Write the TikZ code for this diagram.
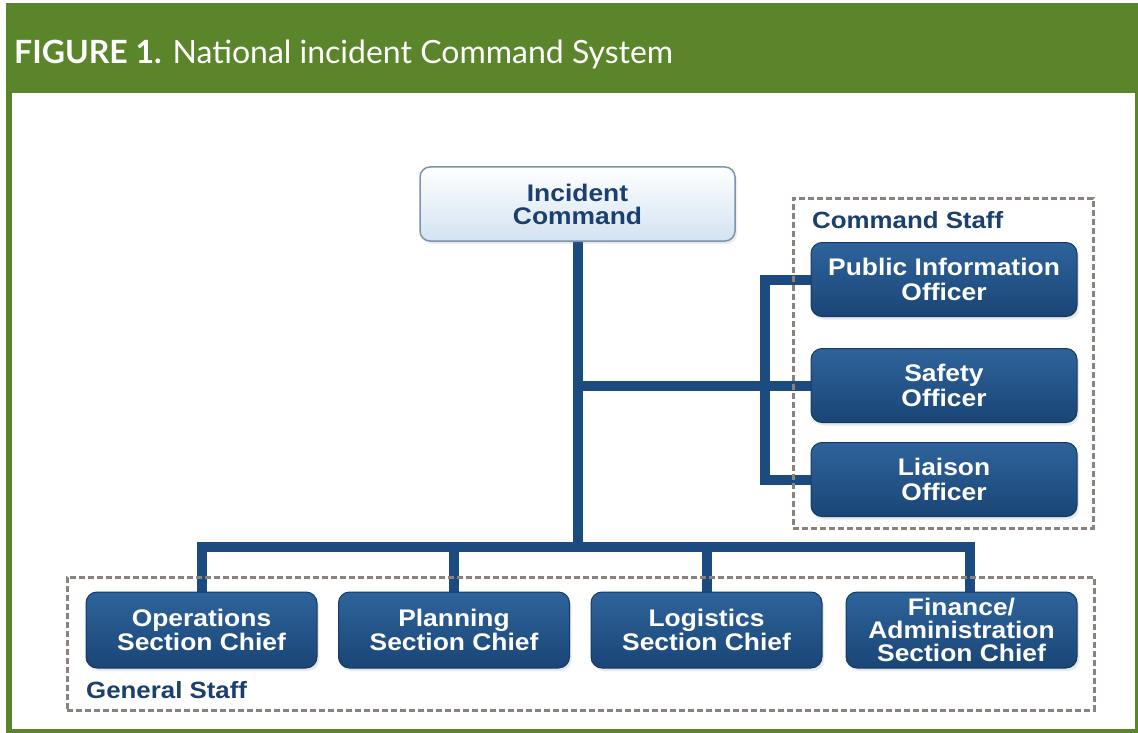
\documentclass[tikz,border=0pt]{standalone}
\usepackage{fontspec}
\setmainfont{Liberation Sans}
\newfontfamily\dfont[FakeStretch=1.1]{Liberation Sans}
\newfontfamily\hfont{Lato}
\usetikzlibrary{shadows}
\definecolor{hgreen}{HTML}{5B852A}
\definecolor{navy}{HTML}{1B4B7F}
\definecolor{boxtop}{HTML}{2E649B}
\definecolor{boxbot}{HTML}{1A4576}
\definecolor{boxedge}{HTML}{133A66}
\definecolor{icedge}{HTML}{7D93AB}
\definecolor{icfill}{HTML}{D3E3F2}
\definecolor{ictext}{HTML}{1B3F6E}
\definecolor{dashgray}{HTML}{8C827D}
\pgfdeclarelayer{bottom}
\pgfdeclarelayer{background}
\pgfsetlayers{bottom,background,main}
\tikzset{
  officer/.style={rectangle, rounded corners=11pt, draw=boxedge, line width=1pt,
    top color=boxtop, bottom color=boxbot, text=white,
    font=\dfont\bfseries\fontsize{24}{24.5}\selectfont, align=center,
    inner sep=0pt, minimum width=266pt, minimum height=74pt,
    drop shadow={shadow xshift=2pt, shadow yshift=-3pt, opacity=0.18, fill=gray}},
  chief/.style={officer, minimum width=231pt, minimum height=76pt},
  icbox/.style={rectangle, rounded corners=10pt, draw=icedge, line width=1.5pt,
    top color=white, bottom color=icfill, text=ictext,
    font=\dfont\bfseries\fontsize{24}{23}\selectfont, align=center,
    inner sep=0pt, minimum width=315pt, minimum height=74pt,
    drop shadow={shadow xshift=2pt, shadow yshift=-3pt, opacity=0.15, fill=gray}},
  staffbox/.style={rectangle, draw=dashgray, line width=3pt, dash pattern=on 6pt off 3pt, inner sep=0pt},
  stafflabel/.style={text=ictext, font=\dfont\bfseries\fontsize{23.5}{24}\selectfont, inner sep=0pt},
  conn/.style={draw=navy, line width=10pt, line join=miter}
}
\begin{document}
\begin{tikzpicture}[x=1pt,y=-1pt]
\useasboundingbox (0,0) rectangle (1138,733);
\begin{pgfonlayer}{bottom}
\fill[white] (0,0) rectangle (1138,733);
\fill[hgreen] (6,3) rectangle (1138,93);
\fill[hgreen] (6,93) rectangle (12,733);
\fill[hgreen] (1135,93) rectangle (1138,733);
\fill[hgreen] (6,729) rectangle (1138,733);
\end{pgfonlayer}
\node[anchor=base west, text=white, inner sep=0pt, font=\hfont\fontsize{32}{36}\selectfont] (title) at (14,64)
  {\textbf{FIGURE 1.} National incident Command System};

% staff boxes
\node[staffbox, minimum width=300pt, minimum height=330pt] (cmdstaff) at (943,363) {};
\node[staffbox, minimum width=1027pt, minimum height=133pt] (genstaff) at (580.5,643.5) {};
\node[stafflabel, anchor=west] (cslabel) at (812,220) {Command Staff};
\node[stafflabel, anchor=west] (gslabel) at (86,690) {General Staff};

% boxes
\node[icbox] (ic) at (577.5,204) {Incident\\Command};
\node[officer] (pio) at (944,279.5) {Public Information\\Officer};
\node[officer] (saf) at (944,385.5) {Safety\\Officer};
\node[officer] (lia) at (944,479.5) {Liaison\\Officer};
\node[chief] (ops) at (201.5,630) {Operations\\Section Chief};
\node[chief] (pln) at (454,630) {Planning\\Section Chief};
\node[chief] (log) at (706.5,630) {Logistics\\Section Chief};
\node[chief, font=\dfont\bfseries\fontsize{24}{23}\selectfont] (fin) at (961.5,630) {Finance/\\Administration\\Section Chief};

\coordinate (bus) at (577.5,547);
\coordinate (cx) at (765,0);
\coordinate (finin) at ([xshift=8pt]fin.north);
\begin{pgfonlayer}{background}
\draw[conn] (ic.south) -- (bus);
\draw[conn] (ops.north) |- (finin |- bus) -- (finin);
\draw[conn] (pln.north) -- (pln.north |- bus);
\draw[conn] (log.north) -- (log.north |- bus);
\draw[conn] (ic.south |- saf.west) -- (saf.west);
\draw[conn] (pio.west) -- (pio.west -| cx) -- (lia.west -| cx) -- (lia.west);
\end{pgfonlayer}
\end{tikzpicture}
\end{document}
